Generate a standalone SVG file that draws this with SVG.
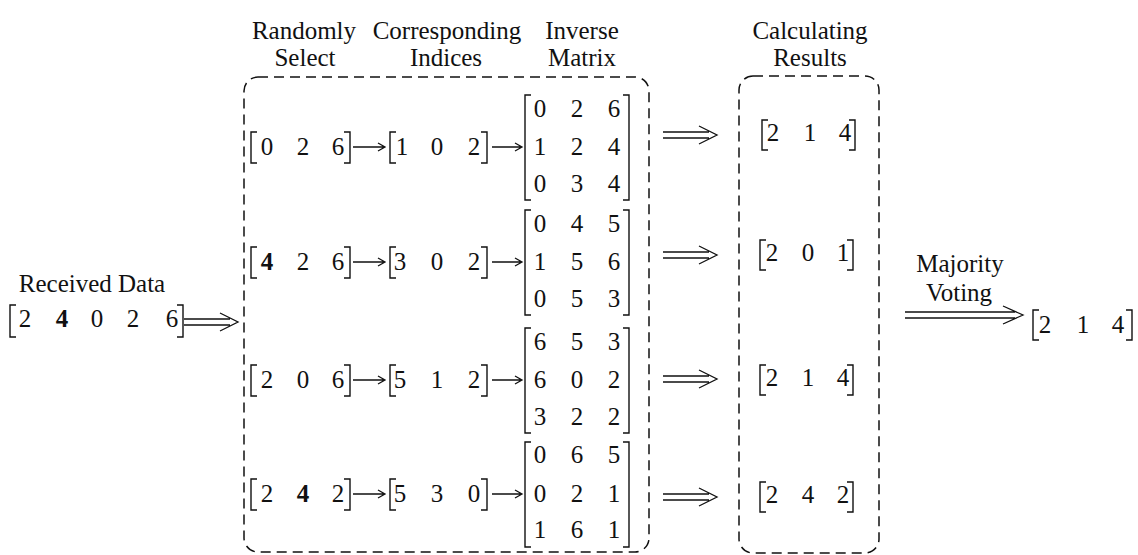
<svg xmlns="http://www.w3.org/2000/svg" width="1138" height="555" viewBox="0 0 1138 555">
<style>
text{font-family:'Liberation Serif','DejaVu Serif',serif;font-size:25px;fill:#111;text-anchor:middle}
.b{font-weight:bold}
.br{fill:none;stroke:#111;stroke-width:1.4}
.dash{fill:none;stroke:#111;stroke-width:1.5;stroke-dasharray:10 6}
.ar{fill:none;stroke:#111;stroke-width:1.3}
</style>
<rect width="1138" height="555" fill="#fff"/>
<g id="headers">
<text x="304" y="39">Randomly</text><text x="305" y="66">Select</text>
<text x="447" y="39">Corresponding</text><text x="446" y="66">Indices</text>
<text x="582" y="39">Inverse</text><text x="582" y="66">Matrix</text>
<text x="810" y="39">Calculating</text><text x="810" y="66">Results</text>
</g>
<g id="boxes">
<rect class="dash" x="244" y="77" width="405" height="475" rx="14"/>
<rect class="dash" x="739" y="76" width="140" height="477" rx="14"/>
</g>
<g id="received">
<text x="92" y="292">Received Data</text>
<path class="br" d="M16,305H10V337H16M177,305H183V337H177"/>
<text x="25" y="327">2</text><text class="b" x="62" y="327">4</text><text x="97" y="327">0</text><text x="133" y="327">2</text><text x="172" y="327">6</text>
</g>
<g id="row1">
<path class="br" d="M257,132H251V163H257M344,132H350V163H344"/>
<text x="267" y="155">0</text><text x="303" y="155">2</text><text x="338" y="155">6</text>
<path class="br" d="M396,132H390V163H396M481,132H487V163H481"/>
<text x="402" y="155">1</text><text x="437" y="155">0</text><text x="474" y="155">2</text>
<path class="br" d="M531,95H525V200H531M623,95H629V200H623"/>
<text x="540" y="117">0</text><text x="577" y="117">2</text><text x="614" y="117">6</text>
<text x="540" y="155">1</text><text x="577" y="155">2</text><text x="614" y="155">4</text>
<text x="540" y="192">0</text><text x="577" y="192">3</text><text x="614" y="192">4</text>
</g>
<g id="row2">
<path class="br" d="M257,247H251V278H257M344,247H350V278H344"/>
<text class="b" x="267" y="270">4</text><text x="303" y="270">2</text><text x="338" y="270">6</text>
<path class="br" d="M396,247H390V278H396M481,247H487V278H481"/>
<text x="400" y="270">3</text><text x="437" y="270">0</text><text x="474" y="270">2</text>
<path class="br" d="M531,210H525V315H531M623,210H629V315H623"/>
<text x="540" y="232">0</text><text x="577" y="232">4</text><text x="614" y="232">5</text>
<text x="540" y="270">1</text><text x="577" y="270">5</text><text x="614" y="270">6</text>
<text x="540" y="307">0</text><text x="577" y="307">5</text><text x="614" y="307">3</text>
</g>
<g id="row3">
<path class="br" d="M257,365H251V396H257M344,365H350V396H344"/>
<text x="267" y="388">2</text><text x="303" y="388">0</text><text x="338" y="388">6</text>
<path class="br" d="M396,365H390V396H396M481,365H487V396H481"/>
<text x="400" y="388">5</text><text x="437" y="388">1</text><text x="474" y="388">2</text>
<path class="br" d="M531,328H525V433H531M623,328H629V433H623"/>
<text x="540" y="350">6</text><text x="577" y="350">5</text><text x="614" y="350">3</text>
<text x="540" y="388">6</text><text x="577" y="388">0</text><text x="614" y="388">2</text>
<text x="540" y="425">3</text><text x="577" y="425">2</text><text x="614" y="425">2</text>
</g>
<g id="row4">
<path class="br" d="M257,479H251V510H257M344,479H350V510H344"/>
<text x="267" y="502">2</text><text class="b" x="303" y="502">4</text><text x="338" y="502">2</text>
<path class="br" d="M396,479H390V510H396M481,479H487V510H481"/>
<text x="400" y="502">5</text><text x="437" y="502">3</text><text x="474" y="502">0</text>
<path class="br" d="M531,442H525V547H531M623,442H629V547H623"/>
<text x="540" y="463">0</text><text x="577" y="463">6</text><text x="614" y="463">5</text>
<text x="540" y="502">0</text><text x="577" y="502">2</text><text x="614" y="502">1</text>
<text x="540" y="538">1</text><text x="577" y="538">6</text><text x="614" y="538">1</text>
</g>
<g id="results">
<path class="br" d="M768,120H762V150H768M849,120H855V150H849"/>
<text x="773" y="141">2</text><text x="810" y="141">1</text><text x="845" y="141">4</text>
<path class="br" d="M766,240H760V270H766M847,240H853V270H847"/>
<text x="772" y="261">2</text><text x="808" y="261">0</text><text x="843" y="261">1</text>
<path class="br" d="M766,365H760V395H766M847,365H853V395H847"/>
<text x="772" y="386">2</text><text x="808" y="386">1</text><text x="843" y="386">4</text>
<path class="br" d="M766,482H760V512H766M847,482H853V512H847"/>
<text x="772" y="503">2</text><text x="808" y="503">4</text><text x="843" y="503">2</text>
</g>
<g id="final">
<text x="960" y="272">Majority</text><text x="959" y="301">Voting</text>
<path class="br" d="M1039,310H1033V340H1039M1126,310H1132V340H1126"/>
<text x="1045" y="333">2</text><text x="1083" y="333">1</text><text x="1118" y="333">4</text>
</g>
<g id="connectors" class="ar">
<path d="M184,319H230M184,325H230M220,313L238,322L220,331"/>
<path d="M353,147H384M378,143L385,147L378,151"/>
<path d="M492,147H521M515,143L522,147L515,151"/>
<path d="M353,262H384M378,258L385,262L378,266"/>
<path d="M492,262H521M515,258L522,262L515,266"/>
<path d="M353,380H384M378,376L385,380L378,384"/>
<path d="M492,380H521M515,376L522,380L515,384"/>
<path d="M353,494H384M378,490L385,494L378,498"/>
<path d="M492,494H521M515,490L522,494L515,498"/>
<path d="M663,132H709M663,138H709M699,126L717,135L699,144"/>
<path d="M663,252H709M663,258H709M699,246L717,255L699,264"/>
<path d="M663,376H709M663,382H709M699,370L717,379L699,388"/>
<path d="M663,494H709M663,500H709M699,488L717,497L699,506"/>
<path d="M905,312H1015M905,318H1015M1003,306L1023,315L1003,324"/>
</g>
</svg>
